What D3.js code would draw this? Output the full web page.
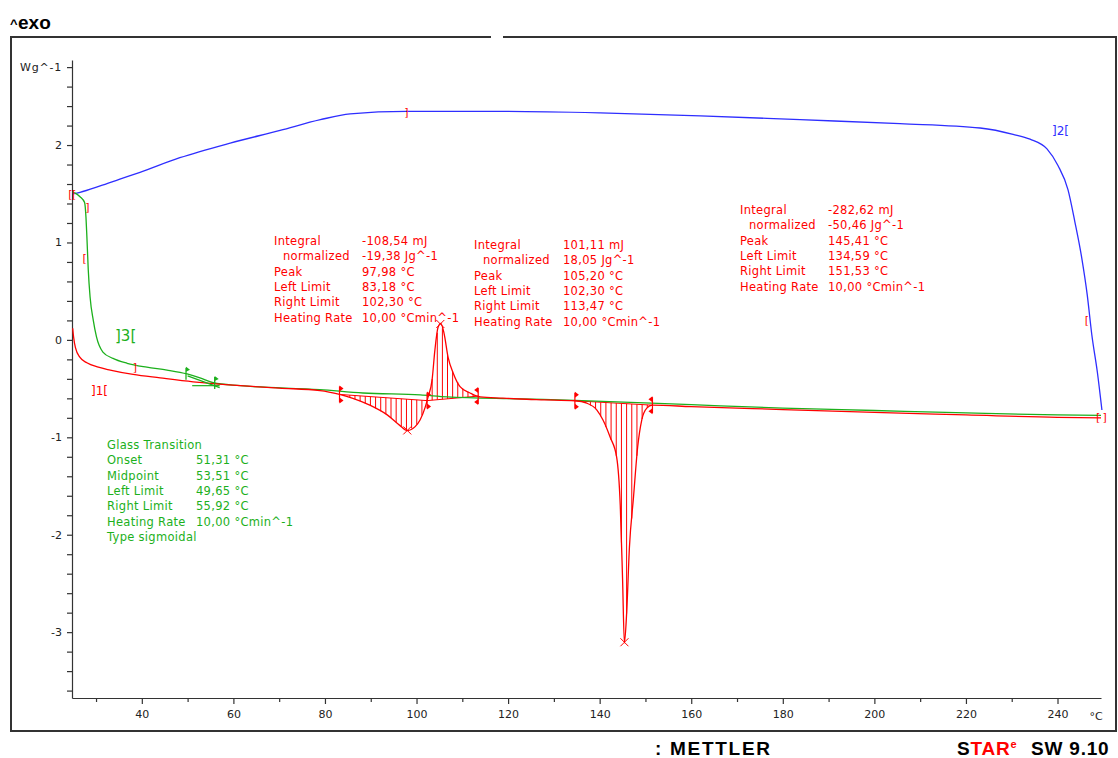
<!DOCTYPE html>
<html><head><meta charset="utf-8">
<script src="https://cdn.jsdelivr.net/npm/d3@7"></script>
<style>
body{margin:0;background:#fff}
svg{display:block}
text{font-family:"DejaVu Sans",Verdana,sans-serif}
</style>
</head><body>
<svg id="c" width="1118" height="758"></svg>
<script>
// ---------- DATA (temperature °C, heat flow W/g) ----------
const redT = [24.9,25.1,25.5,26.5,28.0,30.5,33.1,38.1,44.0,51.2,61.5,70,78.9,83.2,86.1,89.8,93.6,96.4,98.0,99.7,100.8,101.9,102.5,103.4,104.0,104.7,105.3,106.0,106.9,108.0,109.5,111.7,113.9,118.9,122.6,128,134.6,137.2,139.4,140.7,142.3,143.7,144.5,145.0,145.4,145.9,146.5,147.4,148.3,149.2,150.3,151.5,160,180,200,220,240,249.5];
const redV = [0.12,0.03,-0.08,-0.18,-0.235,-0.28,-0.31,-0.355,-0.39,-0.43,-0.47,-0.495,-0.52,-0.56,-0.60,-0.67,-0.77,-0.88,-0.93,-0.89,-0.82,-0.69,-0.59,-0.41,-0.11,0.13,0.17,0.07,-0.18,-0.34,-0.48,-0.545,-0.585,-0.598,-0.607,-0.615,-0.625,-0.65,-0.72,-0.82,-1.0,-1.2,-1.7,-2.45,-3.11,-2.8,-2.13,-1.61,-1.10,-0.82,-0.70,-0.67,-0.685,-0.715,-0.745,-0.77,-0.795,-0.80];

const greenT = [24.9,26.5,27.5,27.8,28.0,28.3,28.7,29.4,30.1,31.5,33.7,36.8,41.1,45.5,49.9,52.7,55.6,61.5,78.9,88.3,100.8,106.7,122.6,134.6,160,180,200,220,240,249.5];
const greenV = [1.52,1.47,1.41,1.26,1.06,0.72,0.44,0.20,0.03,-0.125,-0.19,-0.24,-0.28,-0.31,-0.35,-0.39,-0.44,-0.47,-0.51,-0.545,-0.565,-0.585,-0.605,-0.62,-0.665,-0.70,-0.725,-0.75,-0.77,-0.775];

const blueT = [24.9,26.5,30.9,35.2,39.6,48.3,59.3,70.2,79,85.5,97.8,118.3,140.1,162,183.8,205.6,223.1,230.3,234,237.7,240.1,242.3,243.8,245.3,246.5,247.5,248.7,249.7];
const blueV = [1.50,1.515,1.58,1.65,1.72,1.87,2.02,2.15,2.26,2.32,2.345,2.345,2.33,2.30,2.26,2.22,2.175,2.11,2.06,1.96,1.79,1.54,1.21,0.84,0.46,0.05,-0.33,-0.72];

const peakLeft  = [83.18, 102.30, 134.59];
const peakRight = [102.30, 113.47, 151.53];
const peakTemp  = [97.98, 105.20, 145.41];

const xMajorTicks = [40,60,80,100,120,140,160,180,200,220,240];
const xMinorTicks = [30,50,70,90,110,130,150,170,190,210,230];
const yTicks = d3.range(-36, 29, 2).map(d => d / 10);

const ann1Labels = ["Integral","normalized","Peak","Left Limit","Right Limit","Heating Rate"];
const ann1Values = ["-108,54 mJ","-19,38 Jg^-1","97,98 °C","83,18 °C","102,30 °C","10,00 °Cmin^-1"];
const ann2Values = ["101,11 mJ","18,05 Jg^-1","105,20 °C","102,30 °C","113,47 °C","10,00 °Cmin^-1"];
const ann3Values = ["-282,62 mJ","-50,46 Jg^-1","145,41 °C","134,59 °C","151,53 °C","10,00 °Cmin^-1"];
const glassLabels = ["Glass Transition","Onset","Midpoint","Left Limit","Right Limit","Heating Rate","Type sigmoidal"];
const glassValues = ["","51,31 °C","53,51 °C","49,65 °C","55,92 °C","10,00 °Cmin^-1",""];
const glassLimits = [49.65, 55.92];

// ---------- LAYOUT ----------
const RED = "#ff0000", GREEN = "#1cb01c", BLUE = "#2e2eff", AX = "#333";
const svg = d3.select("#c");
svg.append("rect").attr("width",1118).attr("height",758).attr("fill","#fff");

const x = d3.scaleLinear().domain([24.75, 249.5]).range([72, 1101]);
const y = d3.scaleLinear().domain([-3.676, 2.873]).range([698, 60]);

// frame (with small gap in top edge)
svg.append("path").attr("d","M491,37 H11 V731 H1116 V37 H503")
  .attr("stroke", AX).attr("stroke-width", 2).attr("fill","none");

// axes
const gx = svg.append("g").attr("transform","translate(0,698)")
  .call(d3.axisBottom(x).tickValues(xMajorTicks).tickSize(6).tickSizeOuter(0).tickPadding(6).tickFormat(d3.format("d")));
const gx2 = svg.append("g").attr("transform","translate(0,698)")
  .call(d3.axisBottom(x).tickValues(xMinorTicks).tickSize(4).tickSizeOuter(0).tickFormat(""));
gx2.select(".domain").remove();
const gy = svg.append("g").attr("transform","translate(72,0)")
  .call(d3.axisLeft(y).tickValues(yTicks).tickSize(5).tickSizeOuter(0).tickPadding(5)
    .tickFormat(d => Math.abs(d - 2.8) < 1e-6 ? "Wg^-1" : (Math.abs(d - Math.round(d)) < 1e-6 ? String(Math.round(d)) : "")));
[gx, gx2, gy].forEach(g => {
  g.selectAll("path,line").attr("stroke", AX).attr("stroke-width", 1.2);
  g.selectAll("text").attr("fill","#222").style("font-size","11px").style("font-family",'"DejaVu Sans",Verdana,sans-serif');
});
gy.selectAll("text").filter(d => Math.abs(d - 2.8) < 1e-6).style("letter-spacing","0.8px");
svg.append("text").attr("x",1096).attr("y",720).attr("text-anchor","middle").attr("fill","#222")
  .style("font-size","11px").text("°C");

// curves
const line = d3.line().x(d => x(d[0])).y(d => y(d[1])).curve(d3.curveMonotoneX);
const zip = (a, b) => a.map((t, i) => [t, b[i]]);
function interp(T, ts, vs) {
  const i = Math.max(1, Math.min(ts.length - 1, d3.bisectLeft(ts, T)));
  const t0 = ts[i-1], t1 = ts[i];
  return vs[i-1] + (vs[i] - vs[i-1]) * (T - t0) / (t1 - t0);
}

// hatching of peaks
const hatch = svg.append("g").attr("stroke", RED).attr("stroke-width", 1);
peakLeft.forEach((L, k) => {
  const R = peakRight[k];
  const bL = interp(L, redT, redV), bR = interp(R, redT, redV);
  hatch.append("line").attr("x1", x(L)).attr("y1", y(bL)).attr("x2", x(R)).attr("y2", y(bR));
  const step = (R - L) / Math.round((x(R) - x(L)) / 5.2);
  for (let T = L + step; T < R - step * 0.3; T += step) {
    const b = bL + (bR - bL) * (T - L) / (R - L);
    hatch.append("line").attr("x1", x(T)).attr("x2", x(T)).attr("y1", y(b)).attr("y2", y(interp(T, redT, redV)));
  }
});

svg.append("path").datum(zip(blueT, blueV)).attr("d", line).attr("fill","none").attr("stroke",BLUE).attr("stroke-width",1.3);
svg.append("path").datum(zip(greenT, greenV)).attr("d", line).attr("fill","none").attr("stroke",GREEN).attr("stroke-width",1.3);
svg.append("path").datum(zip(redT, redV)).attr("d", line).attr("fill","none").attr("stroke",RED).attr("stroke-width",1.3);

// limit markers
const mk = svg.append("g");
const limits = [...new Set([...peakLeft, ...peakRight])];
limits.forEach(L => {
  const px = x(L), py = y(interp(L, redT, redV));
  mk.append("line").attr("x1",px).attr("x2",px).attr("y1",py-8).attr("y2",py+8).attr("stroke",RED).attr("stroke-width",1.2);
  const dir = peakLeft.includes(L) ? 1 : -1;
  [py-6, py+6].forEach(ty => {
    mk.append("path").attr("d", `M${px},${ty-3} L${px+4*dir},${ty} L${px},${ty+3} Z`).attr("fill",RED);
  });
});
peakTemp.forEach(T => {
  const px = x(T), py = y(interp(T, redT, redV));
  mk.append("path").attr("d",`M${px-4},${py-4}L${px+4},${py+4}M${px-4},${py+4}L${px+4},${py-4}`).attr("stroke",RED).attr("stroke-width",1);
});
// glass transition markers
glassLimits.forEach(T => {
  const px = x(T), py = y(interp(T, greenT, greenV));
  mk.append("line").attr("x1",px).attr("x2",px).attr("y1",py-6).attr("y2",py+6).attr("stroke",GREEN).attr("stroke-width",1.3);
  mk.append("path").attr("d",`M${px},${py-7} L${px+4},${py-4} L${px},${py-2} Z`).attr("fill",GREEN);
});
mk.append("line").attr("x1",x(50)).attr("y1",y(-0.37)).attr("x2",x(57)).attr("y2",y(-0.49)).attr("stroke",GREEN).attr("stroke-width",1.2);
mk.append("line").attr("x1",x(51)).attr("y1",y(-0.47)).attr("x2",x(57)).attr("y2",y(-0.47)).attr("stroke",GREEN).attr("stroke-width",1.2);

// segment brackets
const brk = svg.append("g").attr("fill",RED).style("font-size","11px");
[["[",24.4,1.5],["[",25.2,1.5],["]",28.1,1.36],["[",27.5,0.84],["]",38.5,-0.28],["]",97.8,2.34],["[",246.4,0.2],["[",248.9,-0.79],["]",250.3,-0.79]]
  .forEach(([s,T,v]) => brk.append("text").attr("x",x(T)).attr("y",y(v)).attr("dy","0.35em").attr("text-anchor","middle").text(s));
svg.append("text").attr("x",91).attr("y",391).attr("dy","0.35em").attr("fill",RED).style("font-size","12px").text("]1[");
svg.append("text").attr("x",115).attr("y",336).attr("dy","0.35em").attr("fill",GREEN).style("font-size","15px").text("]3[");
svg.append("text").attr("x",1052).attr("y",131).attr("dy","0.35em").attr("fill",BLUE).style("font-size","12px").text("]2[");

// annotation blocks
function block(labels, values, lx, vx, y0, color) {
  const g = svg.append("g").attr("fill", color).style("font-size","11.5px").style("letter-spacing","0.3px");
  labels.forEach((t, i) => {
    g.append("text").attr("x", lx + (t === "normalized" ? 9 : 0)).attr("y", y0 + i * 15.3).attr("dy","0.35em").text(t);
    if (values[i]) g.append("text").attr("x", vx).attr("y", y0 + i * 15.3).attr("dy","0.35em").text(values[i]);
  });
}
block(ann1Labels, ann1Values, 274, 362, 241, RED);
block(ann1Labels, ann2Values, 474, 563, 245, RED);
block(ann1Labels, ann3Values, 740, 828, 210, RED);
block(glassLabels, glassValues, 107, 196, 445, GREEN);

// header / footer
svg.append("text").attr("x",10).attr("y",28).style("font-size","13px").style("font-weight","bold").attr("fill","#000")
  .style("font-family","Liberation Sans, Arial, sans-serif").text("^");
svg.append("text").attr("x",18).attr("y",29).style("font-size","19px").style("font-weight","bold").attr("fill","#000")
  .style("font-family","Liberation Sans, Arial, sans-serif").text("exo");
const ft = {"font-family":"Liberation Sans, Arial, sans-serif","font-weight":"bold","font-size":"19px"};
const m = svg.append("text").attr("x",655).attr("y",755).attr("textLength",115).attr("fill","#000").text(": METTLER");
const s = svg.append("text").attr("x",957).attr("y",755).attr("fill","#000");
s.append("tspan").text("S");
s.append("tspan").attr("fill",RED).text("TAR");
s.append("tspan").attr("fill",RED).attr("dy",-7).style("font-size","11px").text("e");
s.append("tspan").attr("x",1031).attr("dy",7).text("SW 9.10");
[m, s].forEach(t => Object.entries(ft).forEach(([k,v]) => t.style(k, v)));
s.style("letter-spacing","0.8px");
</script>
</body></html>
